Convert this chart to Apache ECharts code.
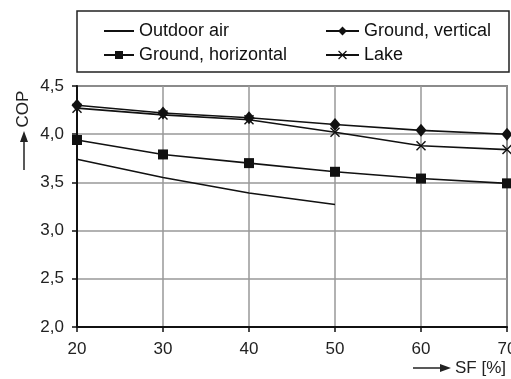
<!DOCTYPE html>
<html><head><meta charset="utf-8">
<script src="https://cdn.jsdelivr.net/npm/echarts@6/dist/echarts.min.js"></script>
<style>html,body{margin:0;padding:0;background:#fff}#c{width:511px;height:379px}</style>
</head><body><div id="c"></div>
<script>
var categories = [20, 30, 40, 50, 60, 70];
var outdoorAir = [3.74, 3.55, 3.39, 3.27, null, null];
var groundHorizontal = [3.94, 3.79, 3.70, 3.61, 3.54, 3.49];
var groundVertical = [4.30, 4.22, 4.17, 4.10, 4.04, 4.00];
var lake = [4.27, 4.20, 4.15, 4.02, 3.88, 3.84];
var yTicks = [2.0, 2.5, 3.0, 3.5, 4.0, 4.5];

var FONT = 'Liberation Sans';
var crossPath = 'path://M0,1L1,0L5,4L9,0L10,1L6,5L10,9L9,10L5,6L1,10L0,9L4,5Z';
function pairs(arr){ return categories.map(function(c,i){ return arr[i]==null?null:[c,arr[i]]; }).filter(function(p){return p;}); }

var chart = echarts.init(document.getElementById('c'), null, {renderer:'canvas'});
var base = {type:'line', color:'#111', lineStyle:{color:'#111', width:1.6}, itemStyle:{color:'#111'}, animation:false, z:5};
var legText = {fontFamily:FONT, fontSize:18, color:'#111', lineHeight:20};
chart.setOption({
  backgroundColor:'#fff',
  textStyle:{fontFamily:FONT},
  grid:{left:77, right:4, top:86, bottom:52, show:true, borderColor:'#333', borderWidth:1.5, outerBoundsMode:'none', containLabel:false},
  legend:[
    {orient:'vertical', left:103, top:21, itemGap:4, itemWidth:30, itemHeight:10, padding:0,
     textStyle:legText,
     data:[{name:'Outdoor air', itemStyle:{opacity:0}},'Ground, horizontal']},
    {orient:'vertical', left:325, top:21, itemGap:4, itemWidth:33, itemHeight:11, padding:0,
     textStyle:legText,
     data:['Ground, vertical','Lake']}
  ],
  xAxis:{type:'value', min:20, max:70, interval:10,
    axisLine:{show:true, onZero:false, lineStyle:{color:'#111', width:2}},
    axisTick:{show:true, length:5, lineStyle:{color:'#111', width:1.5}},
    axisLabel:{fontFamily:FONT, fontSize:17, color:'#222', margin:14, showMaxLabel:true},
    splitLine:{show:true, lineStyle:{color:'#999', width:1.5}}},
  yAxis:{type:'value', min:2.0, max:4.5, interval:0.5,
    axisLine:{show:true, onZero:false, lineStyle:{color:'#111', width:2}},
    axisTick:{show:true, length:5, lineStyle:{color:'#111', width:1.5}},
    axisLabel:{fontFamily:FONT, fontSize:17, color:'#222', margin:13,
      formatter:function(v){ return v.toFixed(1).replace('.', ','); }},
    splitLine:{show:true, lineStyle:{color:'#999', width:1.5}}},
  graphic:[
    {type:'rect', shape:{x:77, y:11, width:432, height:61}, style:{fill:'none', stroke:'#222', lineWidth:1.5}, z:1},
    {type:'text', x:23, y:109, rotation:Math.PI/2, style:{text:'COP', font:'17px "Liberation Sans"', fill:'#222', textAlign:'center', textVerticalAlign:'middle'}},
    {type:'line', shape:{x1:24, y1:170, x2:24, y2:140}, style:{stroke:'#222', lineWidth:1.5}},
    {type:'polygon', shape:{points:[[20,142],[28,142],[24,131]]}, style:{fill:'#222'}},
    {type:'line', shape:{x1:413, y1:368, x2:442, y2:368}, style:{stroke:'#222', lineWidth:1.5}},
    {type:'polygon', shape:{points:[[440,364],[440,372],[451,368]]}, style:{fill:'#222'}},
    {type:'text', x:455, y:368, style:{text:'SF [%]', font:'17px "Liberation Sans"', fill:'#222', textVerticalAlign:'middle'}}
  ],
  series:[
    Object.assign({}, base, {name:'Outdoor air', data:pairs(outdoorAir), showSymbol:false, symbol:'none'}),
    Object.assign({}, base, {name:'Ground, horizontal', data:pairs(groundHorizontal), symbol:'rect', symbolSize:10}),
    Object.assign({}, base, {name:'Ground, vertical', data:pairs(groundVertical), symbol:'diamond', symbolSize:[11,13]}),
    Object.assign({}, base, {name:'Lake', data:pairs(lake), symbol:crossPath, symbolSize:10, z:4})
  ]
});
</script></body></html>
